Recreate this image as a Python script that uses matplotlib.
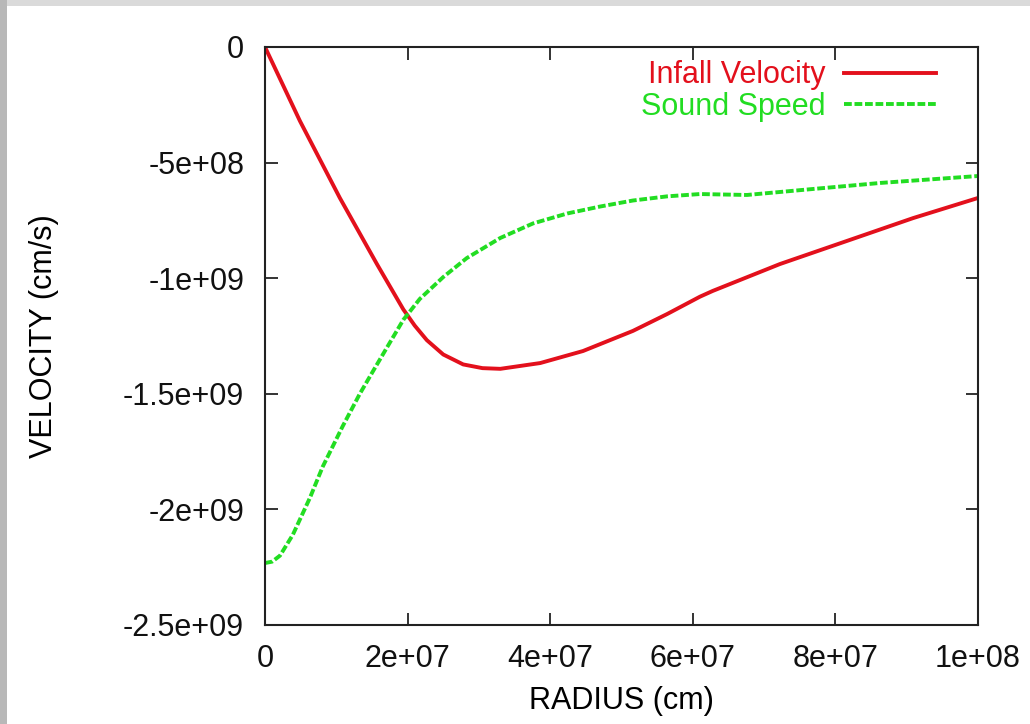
import matplotlib
matplotlib.use("Agg")
import matplotlib.pyplot as plt
from matplotlib.patches import Rectangle

plt.rcParams['font.family'] = ['Liberation Sans', 'DejaVu Sans']

# Infall velocity (cm/s) vs radius (cm)
infall_r = [0, 4.9e6, 1.05e7, 1.57e7, 1.94e7, 2.1e7, 2.27e7, 2.5e7, 2.78e7, 3.05e7, 3.3e7, 3.86e7,
            4.46e7, 5.16e7, 5.64e7, 6.1e7, 6.28e7, 7.22e7, 8.16e7, 9.09e7, 1.0e8]
infall_v = [0, -0.32e9, -0.653e9, -0.939e9, -1.135e9, -1.205e9, -1.268e9, -1.33e9, -1.373e9, -1.389e9, -1.392e9, -1.367e9,
            -1.315e9, -1.228e9, -1.155e9, -1.08e9, -1.055e9, -0.939e9, -0.839e9, -0.74e9, -0.653e9]

# Sound speed (plotted negative)
sound_r = [0, 1e6, 2.1e6, 3.9e6, 6.3e6, 8.1e6, 1.09e7, 1.33e7, 1.5e7, 1.71e7, 1.94e7,
           2.17e7, 2.5e7, 2.83e7, 3.3e7, 3.76e7, 4.24e7, 4.7e7, 5.16e7, 5.64e7,
           6.1e7, 6.76e7, 7.69e7, 8.63e7, 1.0e8]
sound_v = [-2.232e9, -2.226e9, -2.2e9, -2.11e9, -1.95e9, -1.815e9, -1.64e9, -1.5e9, -1.41e9, -1.3e9, -1.18e9,
           -1.09e9, -0.995e9, -0.913e9, -0.826e9, -0.763e9, -0.72e9, -0.69e9, -0.664e9, -0.646e9,
           -0.636e9, -0.64e9, -0.614e9, -0.588e9, -0.558e9]

x_ticks = [0, 2e7, 4e7, 6e7, 8e7, 1e8]
x_labels = ["0", "2e+07", "4e+07", "6e+07", "8e+07", "1e+08"]
y_ticks = [0, -5e8, -1e9, -1.5e9, -2e9, -2.5e9]
y_labels = ["0", "-5e+08", "-1e+09", "-1.5e+09", "-2e+09", "-2.5e+09"]

red = "#e3101c"
green = "#22dd22"
fs = 22

fig = plt.figure(figsize=(10.3, 7.24), dpi=100)
# grey frame at top and left
fig.patches.append(Rectangle((0, 1 - 6 / 724), 1, 6 / 724, transform=fig.transFigure,
                             facecolor="#dadada", edgecolor="none", zorder=0))
fig.patches.append(Rectangle((0, 0), 7 / 1030, 1, transform=fig.transFigure,
                             facecolor="#b8b8b8", edgecolor="none", zorder=0))

ax = fig.add_axes([265 / 1030, 1 - 625 / 724, (978 - 265) / 1030, (625 - 47) / 724])
ax.plot(infall_r, infall_v, color=red, lw=2.8, label="Infall Velocity")
ax.plot(sound_r, sound_v, color=green, lw=2.8, linestyle=(0, (2, 0.7)), label="Sound Speed")

ax.set_xlim(0, 1e8)
ax.set_ylim(-2.5e9, 0)
ax.set_xticks(x_ticks)
ax.set_xticklabels(x_labels)
ax.set_yticks(y_ticks)
ax.set_yticklabels(y_labels)
ax.tick_params(direction="in", length=9, width=1.2, labelsize=fs,
               top=True, right=True, colors="#111111")
ax.tick_params(axis="y", pad=15)
ax.tick_params(axis="x", pad=14)
for s in ax.spines.values():
    s.set_linewidth(1.5)
    s.set_color("#222222")

ax.set_xlabel("RADIUS (cm)", fontsize=fs, labelpad=8)
ax.set_ylabel("VELOCITY (cm/s)", fontsize=fs, labelpad=46)

leg = ax.legend(loc="upper right", frameon=False, fontsize=fs, markerfirst=False,
                handlelength=3.0, handletextpad=0.6, labelspacing=0.05,
                borderaxespad=0.3, bbox_to_anchor=(0.971, 1.014))
for txt, col in zip(leg.get_texts(), [red, green]):
    txt.set_color(col)

fig.savefig("out.png", dpi=100)
